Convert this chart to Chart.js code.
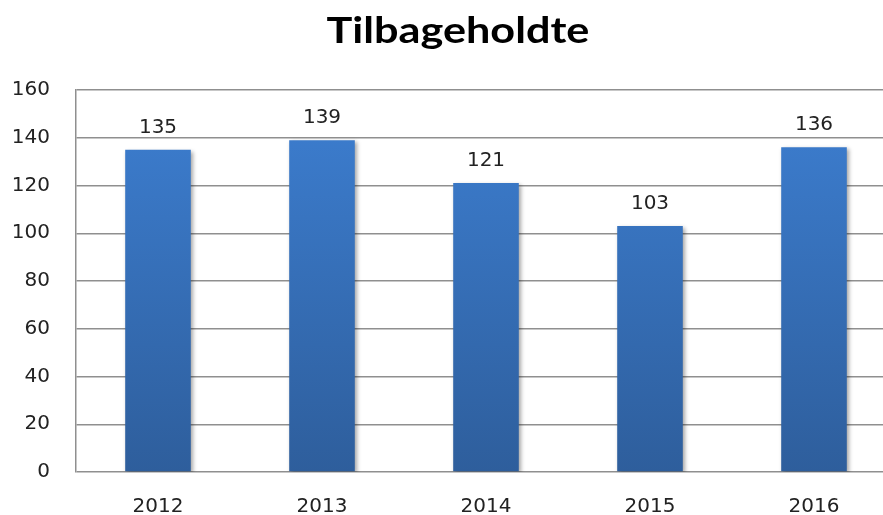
<!DOCTYPE html>
<html>
<head>
<meta charset="utf-8">
<script src="https://cdn.jsdelivr.net/npm/chart.js@4"></script>
<style>
  html, body { margin:0; padding:0; background:#fff; overflow:hidden; }
  #wrap { width:916px; height:515px; position:relative; }
</style>
</head>
<body>
<div id="wrap"><canvas id="tilbageChart"></canvas></div>
<script>
const chartTitle = 'Tilbageholdte';
const years = ['2012','2013','2014','2015','2016'];
const values = [135, 139, 121, 103, 136];
const yTicks = [0, 20, 40, 60, 80, 100, 120, 140, 160];

const textColor = '#222';
const gridColor = '#8f8f8f';

// bar labels + soft shadow
const barExtras = {
    id:'barExtras',
    beforeDatasetsDraw(chart){
        const ctx = chart.ctx;
        ctx.save();
        ctx.shadowColor = 'rgba(0,0,0,0.35)';
        ctx.shadowBlur = 4;
        ctx.shadowOffsetX = 2;
        ctx.shadowOffsetY = 2;
    },
    afterDatasetsDraw(chart){
        const ctx = chart.ctx;
        ctx.restore();
        const meta = chart.getDatasetMeta(0);
        ctx.save();
        ctx.font = '20px "DejaVu Sans"';
        ctx.fillStyle = textColor;
        ctx.textAlign = 'center';
        ctx.textBaseline = 'alphabetic';
        meta.data.forEach(function(bar, i){
            ctx.fillText(String(values[i]), bar.x, bar.y - 17);
        });
        ctx.restore();
    }
};

// title drawn by hand so it can sit a bit right of canvas centre (plot runs off the right edge)
const titleDraw = {
    id:'titleDraw',
    afterDraw(chart){
        const ctx = chart.ctx;
        ctx.save();
        ctx.translate(458, 0);
        ctx.scale(1.2, 1);
        ctx.font = 'bold 36px Lato';
        ctx.fillStyle = '#000';
        ctx.textAlign = 'center';
        ctx.textBaseline = 'alphabetic';
        ctx.fillText(chartTitle, 0, 43);
        ctx.restore();
    }
};

new Chart(document.getElementById('tilbageChart').getContext('2d'),{
    type:'bar',
    data:{labels:years,datasets:[{
        label:chartTitle,
        data:values,
        backgroundColor:function(c){
            const area = c.chart.chartArea;
            if(!area) return '#3a78c8';
            const g = c.chart.ctx.createLinearGradient(0, area.top, 0, area.bottom);
            g.addColorStop(0, '#3d7fd2');
            g.addColorStop(1, '#2e5e9c');
            return g;
        },
        borderWidth:0,
        barPercentage:0.4,
        categoryPercentage:1
    }]},
    options:{
        responsive:true,
        maintainAspectRatio:false,
        animation:false,
        layout:{padding:{left:0,right:20,top:90,bottom:0}},
        plugins:{
            legend:{display:false},
            tooltip:{enabled:false},
            title:{display:false}
        },
        scales:{
            x:{
                grid:{display:false},
                border:{display:false},
                ticks:{color:textColor,font:{family:'DejaVu Sans',size:20},padding:15},
                afterFit:function(s){ s.height = 43; }
            },
            y:{
                min:0,max:160,
                grid:{color:gridColor,lineWidth:1.5,drawTicks:false},
                border:{color:gridColor,width:1.5},
                ticks:{color:textColor,font:{family:'DejaVu Sans',size:20},padding:26,
                    stepSize:20,
                    callback:function(v){ return yTicks.indexOf(v) >= 0 ? v : ''; }},
                afterFit:function(s){ s.width = 76; }
            }
        }
    },
    plugins:[barExtras, titleDraw]
});
</script>
</body>
</html>
